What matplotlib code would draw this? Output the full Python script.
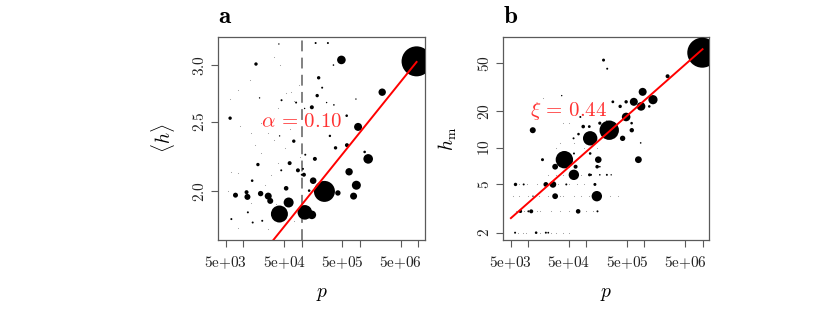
import numpy as np
import matplotlib
matplotlib.use("Agg")
import matplotlib.pyplot as plt
from matplotlib.ticker import FixedLocator, FixedFormatter, NullLocator

plt.rcParams['mathtext.fontset'] = 'cm'
plt.rcParams['font.family'] = ['DejaVu Serif']

# ---- data, panel a : mean h against p (log-log) ----
p_a = [9.33e6, 4.79e5, 2.4e6, 9.26e5, 1.38e6, 6.49e5, 8.65e5, 7.75e5, 2.45e5, 4.17e5,
       1.57e5, 1.13e5, 1.49e5, 4.14e4, 5.96e4, 2.66e4, 2.88e4, 1.97e4, 1.17e4, 1.13e4,
       7.3e3, 5.4e4, 8.6e4, 1.09e5, 1.0e5, 1.05e5, 6.2e4, 7.3e4, 1.68e5, 1.15e5,
       1.77e4, 1.41e4, 4.45e4, 1.19e4, 6.2e3, 1.44e4, 2.1e4, 1.34e5, 1.64e4, 5.9e3,
       1.49e5, 1.95e5, 1.84e5, 2.24e5, 1.73e5, 4.5e4, 8.0e4, 4.05e4, 1.89e4, 4.17e4,
       1.12e5, 2.81e5, 3.5e5, 2.67e5, 3.56e5, 8.5e5, 5.9e5, 3.04e5, 3.8e5, 5.96e5, 1.2e6]
h_a = [3.036, 3.05, 2.75, 2.46, 2.22, 2.13, 2.04, 1.97, 2.00, 1.99,
       2.07, 1.87, 1.855, 1.86, 1.93, 1.97, 1.94, 1.986, 1.965, 1.995,
       1.976, 2.02, 2.14, 2.11, 2.11, 2.15, 2.19, 2.35, 2.22, 2.25,
       2.18, 2.07, 2.14, 1.87, 1.83, 1.81, 1.82, 2.005, 3.01, 2.53,
       2.62, 2.88, 2.72, 2.79, 3.22, 2.68, 2.66, 3.21, 2.70, 2.39,
       2.61, 3.22, 3.0, 2.66, 2.64, 2.69, 2.55, 2.39, 2.30, 2.32, 2.27]
w_a = [15, 4.3, 3.7, 4.0, 4.8, 3.7, 4.5, 3.5, 10.5, 2.7,
       3.3, 7.3, 4.3, 8.5, 5.0, 3.5, 3.0, 2.7, 3.0, 2.0,
       2.5, 2.3, 2.0, 2.0, 1.0, 1.0, 2.0, 1.7, 2.0, 1.0,
       1.7, 1.3, 1.0, 1.0, 1.0, 1.0, 1.0, 1.3, 1.7, 1.7,
       2.0, 1.7, 1.7, 1.0, 1.0, 1.0, 1.0, 0.7, 0.7, 0.7,
       0.7, 1.0, 0.8, 0.7, 0.8, 0.7, 1.3, 1.2, 1.7, 2.0, 1.3]

# faint tiny points, panel a
p_a_small = [4.3e4, 5.8e3, 1.36e4, 3.9e4, 6.2e4, 8.8e3, 5.4e4, 8.9e4, 3.4e4, 2.0e4,
             2.6e4, 8.0e3, 1.28e4, 6.6e4, 7.5e4, 8.0e3, 5.4e3, 3.0e4, 2.0e4, 3.9e4,
             1.36e4, 8.0e3, 2.6e4, 7.5e4, 5.1e4, 1.55e4, 9.2e4, 3.4e4, 6.2e3, 3.6e4, 2.3e4]
h_a_small = [3.00, 2.69, 2.41, 2.61, 2.44, 2.47, 2.74, 2.81, 3.08, 2.49,
             2.41, 2.77, 2.86, 2.75, 2.67, 2.12, 2.00, 2.11, 2.26, 2.19,
             1.93, 1.78, 1.77, 1.82, 2.30, 2.32, 2.23, 2.36, 2.13, 1.92, 2.04]

# ---- data, panel b : h_m against p (log-log) ----
p_b = [9.9e6, 2.47e5, 4.17e4, 1.16e5, 6.07e4, 1.51e5, 4.83e5, 6.55e5, 8.73e5, 9.3e5,
       1.40e6, 7.85e5, 1.6e5, 4.2e5, 6.04e5, 6.0e5, 4.83e5, 3.81e5, 1.21e6, 2.85e5,
       2.5e6, 1.97e5, 2.28e5, 1.19e4, 1.75e4, 2.89e4, 6.5e4, 2.65e4, 2.0e4, 6.0e3,
       2.89e4, 1.4e5, 1.13e5, 1.53e5, 1.16e5, 8.8e4, 1.12e5, 7.3e4, 6.0e4, 1.7e5,
       1.12e4, 7.3e3, 7.2e4, 1.55e5, 5.9e3, 1.36e4, 2.0e4, 2.2e4, 8.3e3, 1.2e4,
       1.2e5, 1.7e5, 6.1e4, 1.7e5, 2.25e5, 2.67e5, 8.6e5, 3.75e4, 7.85e4, 4.5e4, 1.0e4]
hm_b = [61, 14, 8, 12, 6, 4, 18, 24, 22, 29,
        25, 8, 8, 12, 14, 16, 24, 22, 22, 24,
        39, 53, 45, 14, 8, 7, 7, 5, 5, 5,
        4, 5, 6, 7, 9, 15, 15, 13, 12, 16,
        3, 3, 3, 3, 2, 2, 2, 2, 5, 4,
        6, 6, 9, 7, 6, 6, 11, 27, 18, 5, 3]
w_b = [15, 9.7, 8.7, 7.2, 5.2, 5.2, 4.3, 4.0, 4.3, 4.0,
       4.6, 3.4, 3.3, 2.7, 2.2, 1.3, 1.7, 1.7, 1.3, 1.4,
       2.0, 1.5, 1.0, 3.0, 1.5, 2.9, 2.0, 3.3, 2.4, 1.7,
       2.9, 1.5, 1.5, 1.8, 1.3, 1.8, 1.4, 1.3, 1.0, 1.6,
       2.0, 1.7, 2.3, 1.0, 1.0, 1.3, 1.0, 0.9, 1.0, 0.7,
       1.0, 0.8, 1.0, 0.8, 1.0, 0.7, 0.8, 0.7, 1.0, 1.0, 1.0]

# faint tiny points, panel b
p_b_small = [6.5e3, 8e3, 9e3, 1.6e4, 2.5e4, 3e4, 4e4, 5e4,
             6e3, 8.5e3, 1.4e4, 1.6e4, 2.5e4, 3.5e4, 5e4, 1.0e5, 1.3e5,
             5.5e3, 7e3, 1.0e4, 1.5e4, 2.2e4, 3.5e4, 4e4, 6e4, 8e4, 1.1e5, 2.5e5, 3.5e5,
             7e3, 9.5e3, 1.4e4, 3.2e4, 5e4, 7e4, 9e4,
             2.2e4, 3e4, 4e4, 5e4, 8e4, 4e4, 5e4, 3.5e4, 3e4, 9e4, 1.5e5, 3.5e4, 6e4,
             4e4, 5e4, 2.2e5, 1.8e4]
hm_b_small = [2, 2, 2, 2, 2, 2, 2, 2,
              3, 3, 3, 3, 3, 3, 3, 3, 3,
              4, 4, 4, 4, 4, 4, 4, 4, 4, 4, 4, 4,
              5, 5, 5, 5, 5, 5, 5,
              6, 6, 6, 6, 6, 7, 7, 8, 10, 10, 10, 11, 11,
              16, 16, 17, 26]

# fitted power laws
alpha_fit = 0.101
h_ref, p_ref_a = 3.03, 9.33e6
xi_fit = 0.422
hm_ref, p_ref_b = 65.2, 1.0e7
p_split = 1e5

xticks = [5e3, 1e4, 5e4, 1e5, 5e5, 1e6, 5e6, 1e7]
xticklabels = ['5e+03', '', '5e+04', '', '5e+05', '', '5e+06', '']
yticks_a = [2.0, 2.5, 3.0]
yticks_b = [2, 5, 10, 20, 50]


def marker_area(w):
    # w is the point radius in pixels at 100 dpi
    return (2 * np.asarray(w) * 0.72) ** 2


def style_axes(ax, yt, ylabs):
    ax.set_xscale('log')
    ax.set_yscale('log')
    ax.xaxis.set_major_locator(FixedLocator(xticks))
    ax.xaxis.set_major_formatter(FixedFormatter([r'$\mathrm{%s}$' % t.replace('+', '{+}') if t else ''
                                                 for t in xticklabels]))
    ax.xaxis.set_minor_locator(NullLocator())
    ax.yaxis.set_major_locator(FixedLocator(yt))
    ax.yaxis.set_major_formatter(FixedFormatter([r'$\mathrm{%s}$' % s for s in ylabs]))
    ax.yaxis.set_minor_locator(NullLocator())
    for sp in ax.spines.values():
        sp.set_color('#5a5a5a')
        sp.set_linewidth(0.9)
    ax.tick_params(axis='both', direction='out', length=5, width=0.8, color='#5a5a5a',
                   labelsize=11, labelcolor='#222222')
    ax.tick_params(axis='x', pad=5)
    ax.tick_params(axis='y', pad=3, labelrotation=90)
    for lab in ax.get_yticklabels():
        lab.set_va('center')


fig = plt.figure(figsize=(8.3, 3.15), dpi=100)
ax1 = fig.add_axes([0.263, 0.238, 0.249, 0.644])
ax2 = fig.add_axes([0.6064, 0.238, 0.248, 0.644])

# panel a
ax1.scatter(p_a_small, h_a_small, s=0.6, c='#999999', lw=0)
ax1.scatter(p_a, h_a, s=marker_area(w_a), c='black', lw=0, zorder=3)
pl = np.array([3e3, p_ref_a])
ax1.plot(pl, h_ref * (pl / p_ref_a) ** alpha_fit, color='red', lw=1.4, zorder=4)
ax1.axvline(p_split, color='#777777', lw=1.3, dashes=(6, 3.5), zorder=2)
ax1.text(1e5, 2.5, r'$\alpha\,=\,0.10$', color='#ff3333', fontsize=15, ha='center', va='center', zorder=5)
ax1.set_xlim(3.7e3, 1.3e7)
ax1.set_ylim(1.711, 3.281)
style_axes(ax1, yticks_a, ['2.0', '2.5', '3.0'])
ax1.set_xlabel(r'$p$', fontsize=14)
ax1.set_ylabel(r'$\langle h \rangle$', fontsize=14)
ax1.xaxis.set_label_coords(0.5, -0.22)
ax1.yaxis.set_label_coords(-0.2, 0.5)
ax1.text(0.0, 1.07, r'$\mathbf{a}$', transform=ax1.transAxes, fontsize=18, ha='left', va='baseline')

# panel b
ax2.scatter(p_b_small, hm_b_small, s=0.6, c='#999999', lw=0)
ax2.scatter(p_b, hm_b, s=marker_area(w_b), c='black', lw=0, zorder=3)
pl = np.array([5e3, p_ref_b])
ax2.plot(pl, hm_ref * (pl / p_ref_b) ** xi_fit, color='red', lw=1.4, zorder=4)
ax2.text(5e4, 20, r'$\xi\,=\,0.44$', color='#ff3333', fontsize=15, ha='center', va='center', zorder=5)
ax2.set_xlim(3.7e3, 1.3e7)
ax2.set_ylim(1.74, 81.9)
style_axes(ax2, yticks_b, ['2', '5', '10', '20', '50'])
ax2.set_xlabel(r'$p$', fontsize=14)
ax2.set_ylabel(r'$h_{\mathrm{m}}$', fontsize=14)
ax2.xaxis.set_label_coords(0.5, -0.22)
ax2.yaxis.set_label_coords(-0.215, 0.5)
ax2.text(0.0, 1.07, r'$\mathbf{b}$', transform=ax2.transAxes, fontsize=18, ha='left', va='baseline')

fig.savefig('out.png', dpi=100)
